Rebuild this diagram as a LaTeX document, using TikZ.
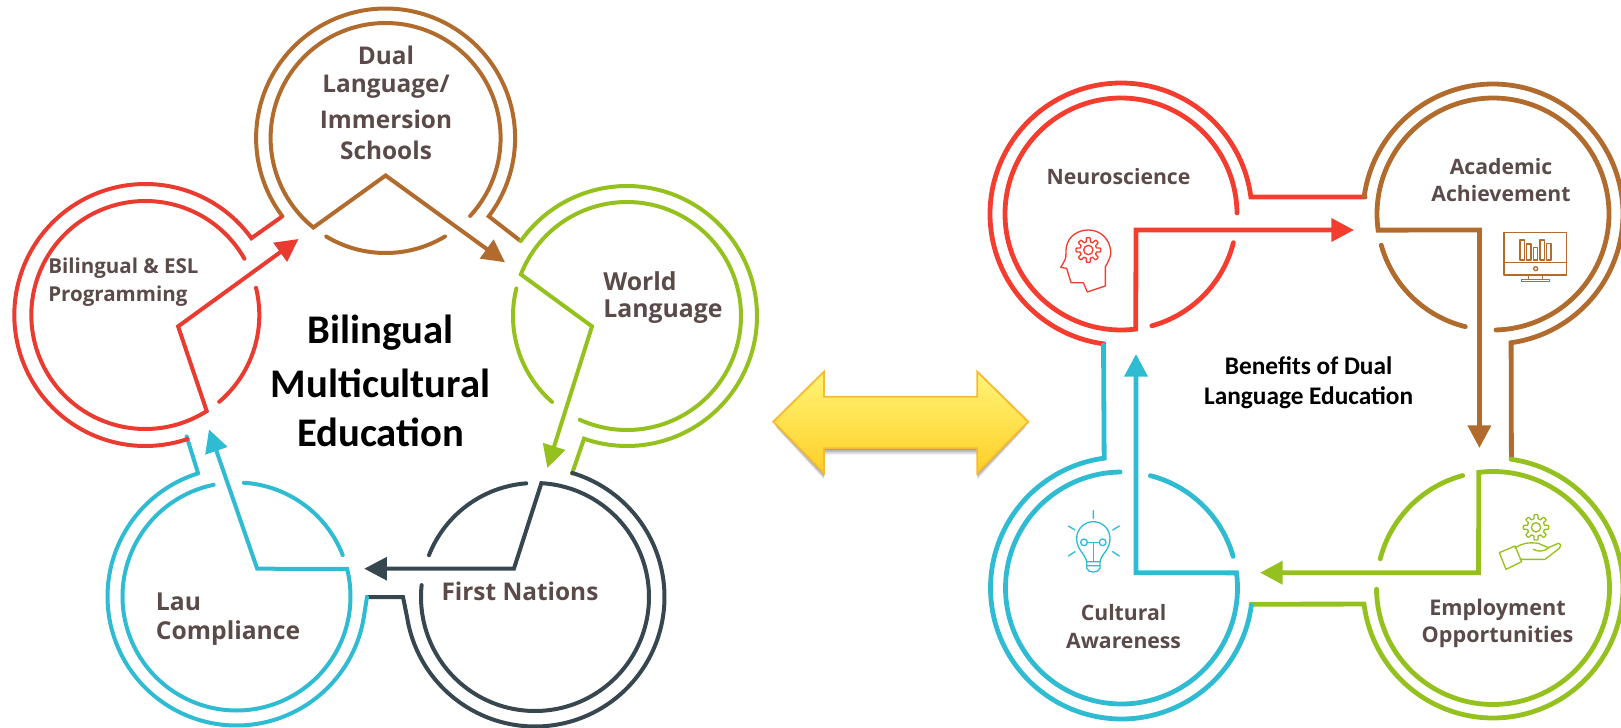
\documentclass[tikz,border=0pt]{standalone}
\usepackage{fontspec}
\setmainfont{Open Sans}
\newfontfamily\carl{Carlito}
\usetikzlibrary{arrows.meta,shadings}
\definecolor{cred}{HTML}{F43D2F}
\definecolor{lred}{HTML}{E93B2F}
\definecolor{cbrown}{HTML}{B06B2D}
\definecolor{cgreen}{HTML}{95C11F}
\definecolor{cblue}{HTML}{2FBCD3}
\definecolor{cdark}{HTML}{37474F}
\definecolor{ctext}{HTML}{5A4B49}
\definecolor{aedge}{HTML}{F4BB33}
\definecolor{atop}{HTML}{FFF477}
\definecolor{abot}{HTML}{FFCF26}
\def\arcp#1#2#3#4#5{plot[domain=#4:#5,samples=140]({#1+#3*cos(\x)},{#2+#3*sin(\x)})}
\tikzset{
  ll/.style={line width=3pt,line cap=round,line join=miter},
  rl/.style={line width=3.6pt,line cap=round,line join=miter},
  tipl/.style={-{Triangle[length=17pt,width=17pt]}},
  tipr/.style={-{Triangle[length=17pt,width=17pt]}},
  lab/.style={text=ctext,font=\bfseries\fontsize{#1}{#1}\selectfont,inner sep=0pt},
  labl/.style={lab=#1,anchor=west},
  ttl/.style={font=\carl\bfseries\fontsize{#1}{#1}\selectfont,inner sep=0pt,text=black},
  icon/.style={line width=1pt,line join=round,line cap=round},
}
\begin{document}
\begin{tikzpicture}[x=.75pt,y=-.75pt]
\useasboundingbox (0,0) rectangle (1621,728);
% ---- LEFT: brown
\draw[ll,cbrown] \arcp{385.6}{138}{129.5}{142.8}{397.2} -- (520,240.5);
\draw[ll,cbrown,tipl] \arcp{385.6}{138}{115}{402.7}{128.9} -- (385.6,175.5) -- (505,262.3);
\draw[ll,cbrown] \arcp{385.6}{138}{115}{121.1}{58.9};
% green
\draw[ll,cgreen] \arcp{627}{316}{130}{215.2}{469.3} -- (572.1,473.5);
\draw[ll,cgreen,tipl] \arcp{627}{316}{114}{474.5}{201.4} -- (592,326.4) -- (547.3,468);
\draw[ll,cgreen] \arcp{627}{316}{114}{131.1}{194};
% dark
\draw[ll,cdark] \arcp{535}{597}{129.5}{-73.3}{171} -- (403,597) -- (367,597);
\draw[ll,cdark,tipl] \arcp{535}{597}{114}{186}{-86.8} -- (513.9,568.7) -- (364.2,568.7);
\draw[ll,cdark] \arcp{535}{597}{114}{201.5}{265.6};
% blue
\draw[ll,cblue] \arcp{236.5}{596.5}{129}{252.7}{10} -- (367,597);
\draw[ll,cblue] (198,473) -- (186.6,436.4);
\draw[ll,cblue,tipl] \arcp{236.5}{596.5}{114}{258.4}{-14} -- (257.2,568.7) -- (209,429.4);
\draw[ll,cblue] \arcp{236.5}{596.5}{114}{-86.3}{-21.3};
% red
\draw[ll,lred] \arcp{145.3}{315}{131}{71.2}{324.1} -- (281,217.3);
\draw[ll,lred,tipl] \arcp{145.3}{315}{114}{330.4}{57.4} -- (178.1,326.4) -- (298.5,239);
\draw[ll,lred] \arcp{145.3}{315}{114}{-13.8}{49.6};
% left text
\node[ttl=30.5] (b1) at (380.6,333) {Bilingual};
\node[ttl=30.5] (b2) at (380.6,383) {Multicultural};
\node[ttl=30.5] (b3) at (380.6,432) {Education};
\node[lab=18.3] (d1) at (386,55) {Dual};
\node[lab=18.3] (d2) at (386,87) {Language/};
\node[lab=18.3] (d3) at (386,119) {Immersion};
\node[lab=18.3] (d4) at (386,150) {Schools};
\node[labl=15.4] (e1) at (48,268) {Bilingual \& ESL};
\node[labl=15.4] (e2) at (48,296) {Programming};
\node[labl=18.6] (w1) at (603,281) {World};
\node[labl=18.6] (w2) at (603,312) {Language};
\node[lab=18.3] (f1) at (520,591) {First Nations};
\node[labl=18.5] (l1) at (155.7,602) {Lau};
\node[labl=18.5] (l2) at (155.7,633) {Compliance};
% ---- double arrow
\foreach \o/\d in {.12/6,.14/4,.16/2}{
  \fill[black,opacity=\o] (773.3+\d/2,421.7+\d) -- (824,371.7+\d) -- (824,396.7+\d) -- (977.3,396.7+\d) -- (977.3,371.7+\d) -- (1028.3-\d/2,421.7+\d) -- (977.3,473.3+\d) -- (977.3,448.3+\d) -- (824,448.3+\d) -- (824,473.3+\d) -- cycle;
}
\draw[line width=1.4pt,draw=aedge,top color=atop,bottom color=abot,line join=miter]
  (773.3,421.7) -- (824,371.7) -- (824,396.7) -- (977.3,396.7) -- (977.3,371.7) -- (1028.3,421.7) -- (977.3,473.3) -- (977.3,448.3) -- (824,448.3) -- (824,473.3) -- cycle;
% ---- RIGHT: red
\draw[rl,cred] \arcp{1121}{214}{131}{-262.4}{-7.5} -- (1365,197);
\draw[rl,cred,tipr] \arcp{1121}{214}{116}{-0.5}{-277.3} -- (1136,230) -- (1354,230);
\draw[rl,cred] \arcp{1121}{214}{116}{14.3}{74.6};
% brown
\draw[rl,cbrown] \arcp{1493}{214}{130}{187.6}{442} -- (1511.4,458);
\draw[rl,cbrown,tipr] \arcp{1493}{214}{116}{448.5}{172} -- (1479.4,230) -- (1479.4,448);
\draw[rl,cbrown] \arcp{1493}{214}{116}{164.4}{103.8};
% green
\draw[rl,cgreen] \arcp{1493}{588}{130}{-82}{172.9} -- (1251,604.2);
\draw[rl,cgreen,tipr] \arcp{1493}{588}{116.5}{179.4}{-97} -- (1478.5,572.7) -- (1260,572.7);
\draw[rl,cgreen] \arcp{1493}{588}{116.5}{194.5}{254.9};
% blue
\draw[rl,cblue] \arcp{1121.5}{588}{131}{7.5}{262.4} -- (1103.5,345);
\draw[rl,cblue,tipr] \arcp{1121.5}{588}{116}{269.3}{-7.5} -- (1136,572.7) -- (1136,354);
\draw[rl,cblue] \arcp{1121.5}{588}{116}{-75.6}{-15.8};
% right text
\node[lab=15.9] (n1) at (1118.5,177) {Neuroscience};
\node[lab=15.9] (a1) at (1501,167) {Academic};
\node[lab=15.9] (a2) at (1501,194) {Achievement};
\node[ttl=19] (t1) at (1308.6,366) {Benefits of Dual};
\node[ttl=19] (t2) at (1308.6,398) {Language Education};
\node[lab=15.9] (c1) at (1123.6,613) {Cultural};
\node[lab=15.9] (c2) at (1123.6,641) {Awareness};
\node[lab=16.2] (o1) at (1497.5,610) {Employment};
\node[lab=16.2] (o2) at (1497.5,637) {Opportunities};
% head icon
\begin{scope}[shift={(1000,220)},x=.25pt,y=-.25pt]
\draw[icon,cred] (316,198) -- (316,140) .. controls (328,120) and (334,105) .. (332,92) .. controls (328,55) and (300,30) .. (265,30) .. controls (225,30) and (198,58) .. (198,92) .. controls (198,105) and (202,112) .. (182,142) -- (200,145) -- (213,188) -- (250,188) -- (262,216) -- cycle;
\draw[icon,cred] plot[domain=0:360,samples=145] ({265+(31+6*max(-1,min(1,3*cos(8*\x))))*cos(\x)},{90+(31+6*max(-1,min(1,3*cos(8*\x))))*sin(\x)});
\draw[icon,cred] (265,90) circle[radius=14];
\end{scope}
% monitor
\begin{scope}[shift={(1490,220)},x=.25pt,y=-.25pt]
\draw[icon,cbrown] (42,37) rectangle (230,165);
\draw[icon,cbrown] (42,128) -- (230,128);
\draw[icon,cbrown] (137,146) circle[radius=6];
\draw[icon,cbrown] (115,165) -- (115,178) (157,165) -- (157,178);
\draw[icon,cbrown] (95,178) rectangle (178,185);
\foreach \xa/\ya in {90/60,110/72,130/83,150/60,170/70}{
  \draw[icon,cbrown] (\xa,\ya) rectangle (\xa+13,120);
}
\end{scope}
% bulb
\begin{scope}[shift={(1040,500)},x=.25pt,y=-.25pt]
\draw[icon,cblue] (160,32) -- (160,55) (85,78) -- (105,90) (238,78) -- (218,90) (85,168) -- (105,155) (238,168) -- (218,155);
\draw[icon,cblue] (140,185) .. controls (135,160) and (110,150) .. (110,115) .. controls (110,88) and (132,65) .. (160,65) .. controls (188,65) and (210,88) .. (210,115) .. controls (210,150) and (185,160) .. (180,185) -- cycle;
\draw[icon,cblue] (140,185) -- (140,205) .. controls (145,220) and (175,220) .. (180,205) -- (180,185) (140,197) -- (180,197);
\draw[icon,cblue] (160,185) -- (160,127) (142,127) -- (178,127);
\draw[icon,cblue] (132,127) circle[radius=10] (188,127) circle[radius=10];
\end{scope}
% gear and hand
\begin{scope}[shift={(1480,510)},x=.25pt,y=-.25pt]
\draw[icon,cgreen] plot[domain=0:360,samples=145] ({168+(32+6*max(-1,min(1,3*cos(8*\x))))*cos(\x)},{52+(32+6*max(-1,min(1,3*cos(8*\x))))*sin(\x)});
\draw[icon,cgreen] (168,52) circle[radius=14];
\draw[icon,cgreen] (58,128) -- (105,108) -- (125,155) -- (78,178) -- cycle;
\draw[icon,cgreen] (105,114) .. controls (125,100) and (145,96) .. (175,100) -- (205,113) -- (235,100) .. controls (244,102) and (244,110) .. (238,115) -- (195,148) -- (120,148);
\draw[icon,cgreen] (160,118) .. controls (175,126) and (195,125) .. (205,113);
\end{scope}
\end{tikzpicture}
\end{document}
